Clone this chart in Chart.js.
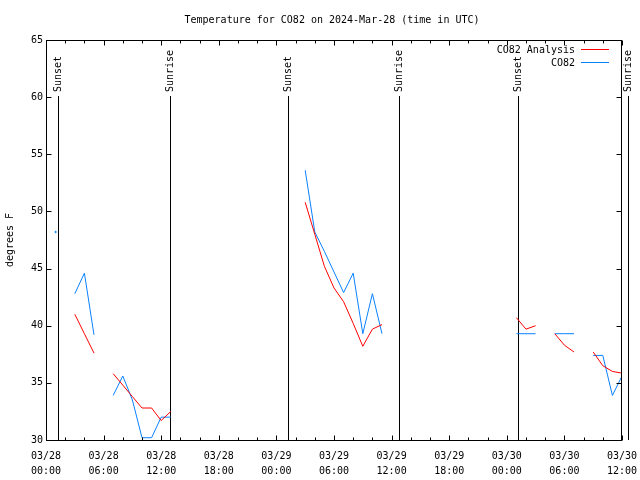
<!DOCTYPE html>
<html>
<head>
<meta charset="utf-8">
<script src="https://cdn.jsdelivr.net/npm/chart.js@4/dist/chart.umd.min.js"></script>
<style>
html,body{margin:0;padding:0;background:#fff;}
#wrap{width:640px;height:480px;}
</style>
</head>
<body>
<div id="wrap"><canvas id="tempChart" width="640" height="480"></canvas></div>
<script>
// ---------------- DATA ----------------
const titleText="Temperature for CO82 on 2024-Mar-28 (time in UTC)";
// hours since 03/28 00:00 UTC
const hours=[0,1,2,3,4,5,6,7,8,9,10,11,12,13,14,15,16,17,18,19,20,
  21,22,23,24,25,26,27,28,29,30,31,32,33,34,35,36,37,38,39,40,
  41,42,43,44,45,46,47,48,49,50,51,52,53,54,55,56,57,58,59,60];
const analysisTemp=[null,null,null,41.0,39.3,37.6,null,35.8,34.8,33.8,32.8,32.8,31.7,32.5,null,null,null,null,null,null,null,
  null,null,null,null,null,null,50.8,48.0,45.2,43.3,42.1,40.2,38.2,39.7,40.1,null,null,null,null,null,
  null,null,null,null,null,null,null,null,40.7,39.7,40.0,null,39.3,38.3,37.7,null,37.7,36.5,36.0,35.85];
const obsTemp=[null,48.2,null,42.8,44.6,39.2,null,33.9,35.6,33.5,30.2,30.2,32.0,32.0,null,null,null,null,null,null,null,
  null,null,null,null,null,null,53.6,48.2,46.5,44.7,42.9,44.6,39.3,42.8,39.3,null,null,null,null,null,
  null,null,null,null,null,null,null,null,39.3,39.3,39.3,null,39.3,39.3,39.3,null,37.4,37.4,33.9,35.6];
const sunsetHours=[1.25,25.24,49.2];
const sunriseHours=[12.92,36.8,60.66];
const yTicks=[30,35,40,45,50,55,60,65];

// ---------------- HELPERS ----------------
function pts(vals){return hours.map((h,i)=>({x:h,y:vals[i]}));}
function lonely(ctx){
  const d=ctx.dataset.data, i=ctx.dataIndex;
  if(!d[i]||d[i].y==null) return 0;
  const prev=d[i-1]&&d[i-1].y!=null, next=d[i+1]&&d[i+1].y!=null;
  return (!prev&&!next)?0.7:0;
}
function tickLabel(v){
  const day=28+Math.floor(v/24), hr=v%24;
  return ["03/"+day,(hr<10?"0":"")+hr+":00"];
}

// ---------------- FRAME, TICKS, SUN LINES, LEGEND ----------------
const gnuFrame={
  id:"gnuFrame",
  beforeDatasetsDraw(chart){
    const {ctx,chartArea:a,scales:{x}}=chart;
    ctx.save();
    ctx.strokeStyle="#000";ctx.fillStyle="#000";ctx.lineWidth=1;
    ctx.font="10px 'DejaVu Sans Mono'";
    const draw=(list,label)=>list.forEach(h=>{
      const px=Math.floor(x.getPixelForValue(h))+0.5;
      ctx.beginPath();ctx.moveTo(px,a.top+56);ctx.lineTo(px,a.bottom);ctx.stroke();
      ctx.save();ctx.translate(px,a.top+52);ctx.rotate(-Math.PI/2);
      ctx.textAlign="left";ctx.textBaseline="middle";ctx.fillText(label,0,0);ctx.restore();
    });
    draw(sunsetHours,"Sunset");
    draw(sunriseHours,"Sunrise");
    ctx.restore();
  },
  afterDraw(chart){
    const {ctx,chartArea:a,scales:{x,y}}=chart;
    const L=a.left+0.5,R=Math.round(a.right)-0.5,T=Math.round(a.top)+0.5,B=Math.round(a.bottom)+0.5;
    ctx.save();
    ctx.strokeStyle="#000";ctx.lineWidth=1;
    ctx.strokeRect(L,T,R-L,B-T);
    ctx.beginPath();
    x.ticks.forEach(t=>{
      const px=Math.round(x.getPixelForValue(t.value))+0.5;
      const len=t.value%6===0?5:3;
      ctx.moveTo(px,B);ctx.lineTo(px,B-len);
      ctx.moveTo(px,T);ctx.lineTo(px,T+len);
    });
    y.ticks.forEach(t=>{
      const py=Math.round(y.getPixelForValue(t.value))+0.5;
      ctx.moveTo(L,py);ctx.lineTo(L+5,py);
      ctx.moveTo(R,py);ctx.lineTo(R-5,py);
    });
    ctx.stroke();

    // title
    ctx.fillStyle="#000";
    ctx.font="10px 'DejaVu Sans Mono'";
    ctx.textAlign="center";ctx.textBaseline="middle";
    ctx.fillText(titleText,(a.left+a.right)/2-2,20);

    // legend, top right inside plot
    chart.data.datasets.forEach((ds,i)=>{
      const ly=a.top+10+i*13;
      ctx.textAlign="right";ctx.fillStyle="#000";
      ctx.fillText(ds.label,a.right-47,ly);
      ctx.strokeStyle=ds.borderColor;
      ctx.beginPath();ctx.moveTo(a.right-41,Math.round(ly)-0.5);ctx.lineTo(a.right-13,Math.round(ly)-0.5);ctx.stroke();
    });
    ctx.restore();
  }
};

// ---------------- CHART ----------------
Chart.defaults.font.family="'DejaVu Sans Mono', monospace";
Chart.defaults.font.size=10;
Chart.defaults.color="#000";

new Chart(document.getElementById("tempChart"),{
  type:"line",
  data:{
    datasets:[
      {label:"CO82 Analysis",data:pts(analysisTemp),borderColor:"#ff0000",backgroundColor:"#ff0000",
       borderWidth:1,pointRadius:lonely,pointHoverRadius:0,tension:0,spanGaps:false},
      {label:"CO82",data:pts(obsTemp),borderColor:"#0a80ff",backgroundColor:"#0a80ff",
       borderWidth:1,pointRadius:lonely,pointHoverRadius:0,tension:0,spanGaps:false}
    ]
  },
  options:{
    responsive:false,
    animation:false,
    layout:{padding:{top:40,right:18,left:0,bottom:0},autoPadding:false},
    plugins:{legend:{display:false},tooltip:{enabled:false},title:{display:false}},
    scales:{
      x:{
        type:"linear",min:0,max:60,
        grid:{display:false,drawTicks:false},border:{display:false},
        ticks:{stepSize:2,autoSkip:false,maxRotation:0,padding:9,
          font:{size:10,lineHeight:1.5},
          callback:v=>v%6===0?tickLabel(v):""},
        afterFit:s=>{s.height=40;s.paddingLeft=0;s.paddingRight=0;}
      },
      y:{
        min:30,max:65,
        grid:{display:false,drawTicks:false},border:{display:false},
        ticks:{stepSize:5,padding:3,callback:v=>yTicks.includes(v)?v:""},
        title:{display:true,text:"degrees F",padding:{top:4,bottom:0},font:{size:10}},
        afterFit:s=>{s.width=46;s.paddingTop=0;s.paddingBottom=0;}
      }
    }
  },
  plugins:[gnuFrame]
});
</script>
</body>
</html>
